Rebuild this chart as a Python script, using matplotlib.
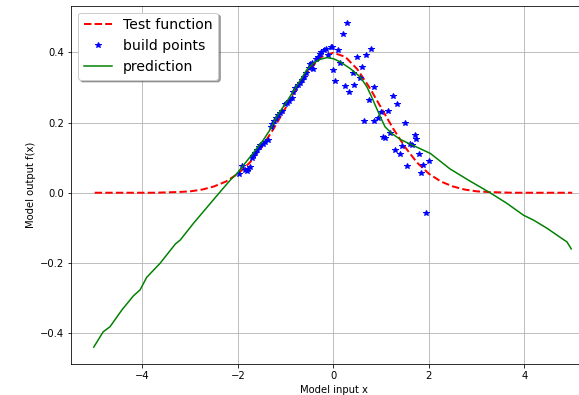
import matplotlib
matplotlib.use('Agg')
import matplotlib.pyplot as plt
import numpy as np

# Test function
x_test = [-5.0, -4.75, -4.5, -4.25, -4.0, -3.75, -3.5, -3.25, -3.0, -2.75, -2.5, -2.25,
          -2.0, -1.75, -1.5, -1.25, -1.0, -0.75, -0.5, -0.25, 0.0, 0.25, 0.5, 0.75,
          1.0, 1.25, 1.5, 1.75, 2.0, 2.25, 2.5, 2.75, 3.0, 3.25, 3.5, 3.75, 4.0,
          4.25, 4.5, 4.75, 5.0]
y_test = [0.0, 0.0, 0.0, 0.0, 0.0, 0.0, 0.001, 0.002, 0.004, 0.009, 0.018, 0.032,
          0.054, 0.086, 0.130, 0.183, 0.242, 0.301, 0.352, 0.387, 0.399, 0.387, 0.352, 0.301,
          0.242, 0.183, 0.130, 0.086, 0.054, 0.032, 0.018, 0.009, 0.004, 0.002, 0.001, 0.0, 0.0,
          0.0, 0.0, 0.0, 0.0]

# build points
x_build = [-1.97, -1.92, -1.85, -1.81, -1.78, -1.75, -1.71, -1.68, -1.64, -1.60, -1.56,
           -1.53, -1.47, -1.43, -1.37, -1.31, -1.28, -1.25, -1.20, -1.16, -1.12, -1.08,
           -1.02, -0.98, -0.93, -0.87, -0.84, -0.80, -0.75, -0.71, -0.66, -0.62, -0.57,
           -0.52, -0.49, -0.45, -0.42, -0.36, -0.33, -0.29, -0.25, -0.20, -0.15, -0.11,
           -0.06, -0.02,
           0.00, 0.04, 0.10, 0.14, 0.20, 0.24, 0.29, 0.33, 0.40, 0.43, 0.50, 0.55, 0.60,
           0.65, 0.69, 0.75, 0.79, 0.85, 0.84, 0.94, 0.99, 1.04, 1.08, 1.15, 1.19, 1.24,
           1.29, 1.33, 1.40, 1.44, 1.50, 1.54, 1.61, 1.65, 1.70, 1.73, 1.79, 1.83, 1.87,
           1.94, 2.00]
y_build = [0.054, 0.076, 0.066, 0.062, 0.069, 0.072, 0.098, 0.104, 0.113, 0.122, 0.131,
           0.137, 0.140, 0.145, 0.150, 0.188, 0.197, 0.205, 0.212, 0.222, 0.228, 0.232,
           0.252, 0.256, 0.262, 0.269, 0.287, 0.298, 0.307, 0.312, 0.322, 0.330, 0.340,
           0.356, 0.368, 0.370, 0.354, 0.382, 0.388, 0.395, 0.402, 0.406, 0.411, 0.392,
           0.416, 0.414,
           0.349, 0.319, 0.406, 0.370, 0.451, 0.305, 0.485, 0.288, 0.342, 0.308, 0.386, 0.326, 0.359,
           0.203, 0.392, 0.265, 0.409, 0.302, 0.203, 0.213, 0.231, 0.158, 0.157, 0.234, 0.170, 0.275,
           0.122, 0.252, 0.110, 0.133, 0.200, 0.076, 0.138, 0.136, 0.164, 0.152, 0.109, 0.057, 0.080,
           -0.059, 0.090]

# prediction
x_pred = [-5.02, -4.82, -4.68, -4.43, -4.19, -4.05, -3.91, -3.63, -3.31, -3.21, -2.93,
          -2.65, -2.37, -2.16, -2.02, -1.74, -1.47, -1.33, -1.19, -0.98, -0.77, -0.56,
          -0.42, -0.28, -0.14, 0.0, 0.14, 0.35, 0.56, 0.70, 0.80, 0.89, 0.98, 1.08,
          1.22, 1.40, 1.68, 2.03, 2.44, 2.85, 3.28, 3.63, 3.98, 4.19, 4.47, 4.78, 4.89, 4.98]
y_pred = [-0.440, -0.396, -0.382, -0.334, -0.294, -0.277, -0.241, -0.201, -0.146, -0.135, -0.087,
          -0.042, 0.003, 0.036, 0.055, 0.103, 0.150, 0.179, 0.217, 0.259, 0.304, 0.350,
          0.369, 0.380, 0.385, 0.382, 0.373, 0.354, 0.330, 0.302, 0.273, 0.245, 0.217, 0.188,
          0.169, 0.152, 0.134, 0.112, 0.068, 0.034, 0.0, -0.030, -0.064, -0.078, -0.101, -0.130, -0.140, -0.160]

fig = plt.figure(figsize=(579 / 72, 395 / 72), dpi=72)
ax = fig.add_axes([0.1231, 0.0785, 0.9072, 0.9071])

ax.plot(x_test, y_test, 'r--', linewidth=2, label='Test function')
ax.plot(x_build, y_build, 'b*', label='build points')
ax.plot(x_pred, y_pred, 'g-', linewidth=1.5, label='prediction')

ax.set_xlim(-5.49, 5.51)
ax.set_ylim(-0.488, 0.533)
ax.set_xticks([-4, -2, 0, 2, 4])
ax.set_yticks([-0.4, -0.2, 0.0, 0.2, 0.4])
ax.grid(True)
ax.set_xlabel('Model input x')
ax.set_ylabel('Model output f(x)')
ax.legend(loc='upper left', fontsize=14, shadow=True)

fig.savefig('out.png', dpi=72)
